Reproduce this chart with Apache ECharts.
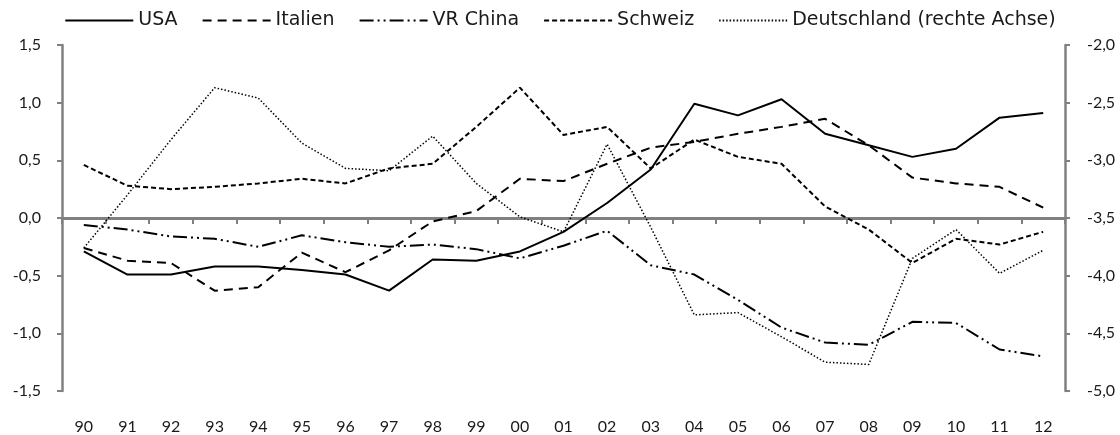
<!DOCTYPE html>
<html>
<head>
<meta charset="utf-8">
<script src="https://cdn.jsdelivr.net/npm/echarts@6/dist/echarts.min.js"></script>
<style>
  html, body { margin: 0; padding: 0; background: #fff; }
  #chart { width: 1120px; height: 435px; }
</style>
</head>
<body>
<div id="chart"></div>
<script>
const years = ['90','91','92','93','94','95','96','97','98','99','00','01','02','03','04','05','06','07','08','09','10','11','12']

const usa = [-0.29, -0.49, -0.49, -0.42, -0.42, -0.45, -0.49, -0.63, -0.36, -0.37, -0.29, -0.12, 0.13, 0.42, 0.99, 0.89, 1.03, 0.73, 0.63, 0.53, 0.60, 0.87, 0.91]
const italien = [-0.26, -0.37, -0.39, -0.63, -0.60, -0.30, -0.47, -0.28, -0.03, 0.06, 0.34, 0.32, 0.47, 0.61, 0.66, 0.73, 0.79, 0.86, 0.63, 0.35, 0.30, 0.27, 0.09]
const china = [-0.06, -0.10, -0.16, -0.18, -0.25, -0.15, -0.21, -0.25, -0.23, -0.27, -0.35, -0.24, -0.11, -0.41, -0.49, -0.71, -0.95, -1.08, -1.10, -0.90, -0.91, -1.14, -1.20]
const schweiz = [0.46, 0.28, 0.25, 0.27, 0.30, 0.34, 0.30, 0.43, 0.47, 0.79, 1.13, 0.72, 0.79, 0.43, 0.68, 0.53, 0.47, 0.10, -0.10, -0.39, -0.18, -0.23, -0.12]
// Deutschland auf der rechten Achse
const deutschland = [-3.76, -3.30, -2.82, -2.37, -2.46, -2.85, -3.07, -3.09, -2.79, -3.20, -3.49, -3.62, -2.86, -3.58, -4.34, -4.32, -4.53, -4.75, -4.77, -3.85, -3.60, -3.98, -3.78]

const leftTicks = { min: -1.5, max: 1.5, interval: 0.5 }
const rightTicks = { min: -5.0, max: -2.0, interval: 0.5 }

const legendFont = '"DejaVu Sans", sans-serif'
const tickFont = 'Lato, "DejaVu Sans", sans-serif'
const axisGrey = '#808080'
const fmt = v => v.toFixed(1).replace('.', ',')

const chart = echarts.init(document.getElementById('chart'))

const lineSeries = (name, data, type, width, yAxisIndex) => ({
  name,
  type: 'line',
  data,
  yAxisIndex: yAxisIndex || 0,
  symbol: 'none',
  silent: true,
  itemStyle: { color: '#000' },
  lineStyle: { color: '#000', width, type }
})

chart.setOption({
  animation: false,
  legend: {
    top: 6,
    left: 'center',
    itemWidth: 68,
    itemHeight: 14,
    itemGap: 24,
    itemStyle: { opacity: 0 },
    textStyle: { fontFamily: legendFont, fontSize: 19, color: '#1a1a1a' },
    data: ['USA', 'Italien', 'VR China', 'Schweiz', 'Deutschland (rechte Achse)']
  },
  grid: { left: 62, right: 55, top: 45, bottom: 44 },
  xAxis: [
    {
      type: 'category',
      data: years,
      boundaryGap: true,
      axisLine: { show: false, onZero: false },
      axisTick: { show: false },
      axisLabel: { fontFamily: tickFont, fontSize: 16, color: '#1a1a1a', margin: 28 }
    },
    {
      type: 'category',
      data: years,
      boundaryGap: true,
      position: 'top',
      axisLine: { show: true, onZero: true, lineStyle: { color: axisGrey, width: 3 } },
      axisTick: { show: true, inside: true, length: 6, lineStyle: { color: axisGrey, width: 2 } },
      axisLabel: { show: false }
    }
  ],
  yAxis: [
    {
      type: 'value',
      position: 'left',
      ...leftTicks,
      splitLine: { show: false },
      axisLine: { show: true, lineStyle: { color: axisGrey, width: 2.5 } },
      axisTick: { show: true, length: 5, lineStyle: { color: axisGrey, width: 2 } },
      axisLabel: { fontFamily: tickFont, fontSize: 16, color: '#1a1a1a', margin: 21, formatter: fmt }
    },
    {
      type: 'value',
      position: 'right',
      ...rightTicks,
      splitLine: { show: false },
      axisLine: { show: true, lineStyle: { color: axisGrey, width: 2.5 } },
      axisTick: { show: true, length: 5, lineStyle: { color: axisGrey, width: 2 } },
      axisLabel: { fontFamily: tickFont, fontSize: 16, color: '#1a1a1a', margin: 22, formatter: fmt }
    }
  ],
  series: [
    lineSeries('USA', usa, 'solid', 2),
    lineSeries('Italien', italien, [9, 6], 2),
    lineSeries('VR China', china, [14, 4, 2, 4, 2, 4], 2),
    lineSeries('Schweiz', schweiz, [5, 3], 2),
    lineSeries('Deutschland (rechte Achse)', deutschland, [1.5, 2], 1.5, 1)
  ]
})
</script>
</body>
</html>
